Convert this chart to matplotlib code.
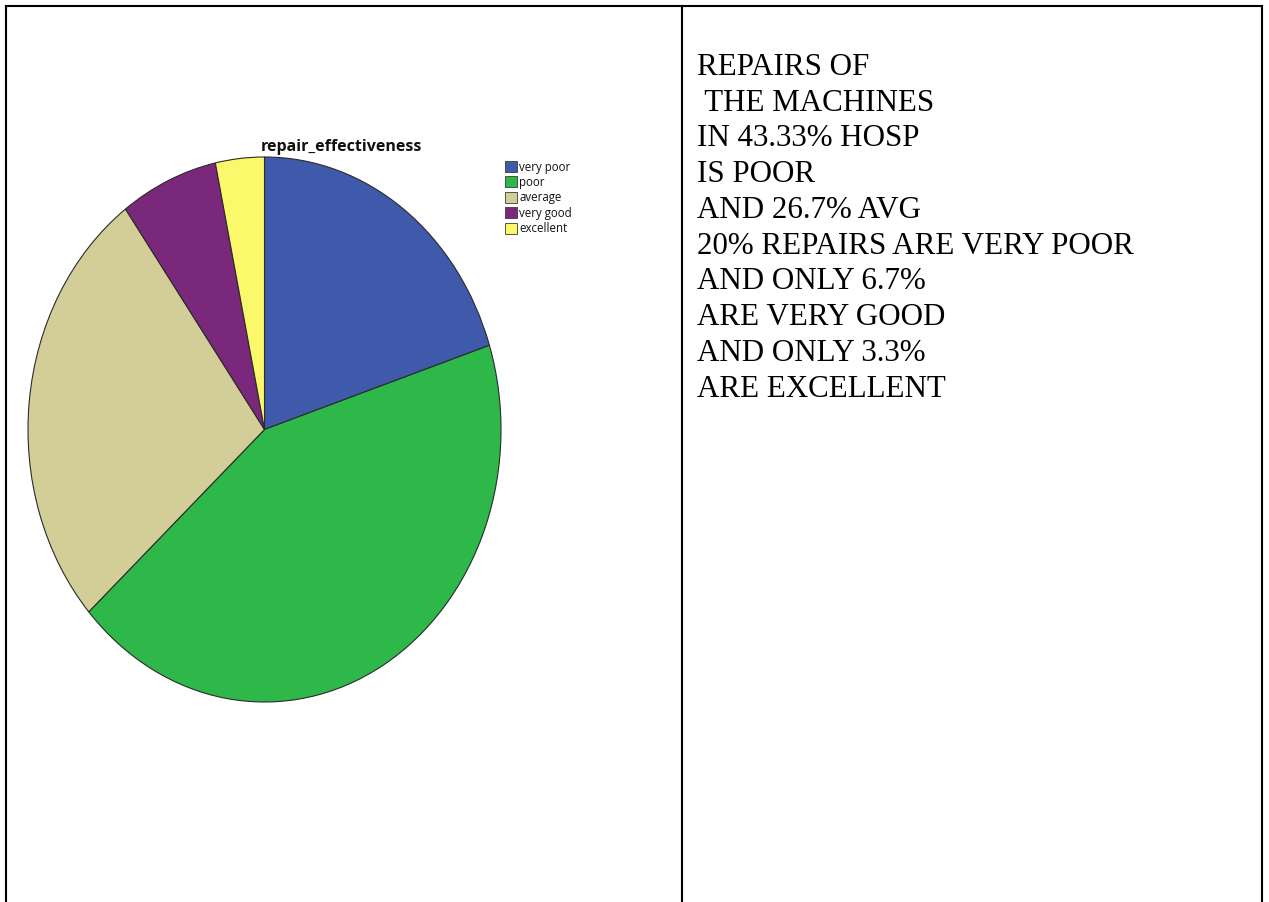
import matplotlib
matplotlib.use("Agg")
import matplotlib.pyplot as plt
from matplotlib.patches import Rectangle
from matplotlib.lines import Line2D

# Survey responses (30 hospitals) on how effective machine repairs are
categories = ["very poor", "poor", "average", "very good", "excellent"]
counts = [6, 13, 8, 2, 1]
slice_colors = ["#3F5AAB", "#2EB84A", "#D3CE98", "#7A287B", "#FBF86B"]
chart_title = "repair_effectiveness"

notes = [
    "REPAIRS OF",
    " THE MACHINES",
    "IN 43.33% HOSP",
    "IS POOR",
    "AND 26.7% AVG",
    "20% REPAIRS ARE VERY POOR",
    "AND ONLY 6.7%",
    "ARE VERY GOOD",
    "AND ONLY 3.3%",
    "ARE EXCELLENT",
]

W, H = 1269, 903
fig = plt.figure(figsize=(W / 100, H / 100), dpi=100)
fig.patch.set_facecolor("white")


def fx(px):
    return px / W


def fy(py):
    return 1 - py / H


# Table borders: two-cell layout, open at the bottom
lw = 1.5
for xs, ys in [
    ([6, 1262], [7, 7]),
    ([6, 6], [7, 903]),
    ([1262, 1262], [7, 903]),
    ([682, 682], [7, 903]),
]:
    fig.add_artist(Line2D([fx(x) for x in xs], [fy(y) for y in ys],
                          color="black", lw=lw, solid_capstyle="projecting"))

# Pie chart (slightly stretched vertically)
left, right, top, bottom = 28, 501, 158, 703
ax = fig.add_axes([fx(left), fy(bottom), fx(right - left), (bottom - top) / H])
ax.pie(counts, colors=slice_colors, startangle=90, counterclock=False,
       radius=1.0, wedgeprops=dict(edgecolor="#2a2a2a", linewidth=0.8))
ax.set_aspect("auto")
ax.set_xlim(-1, 1)
ax.set_ylim(-1, 1)
ax.axis("off")

# Title
fig.text(fx(341), fy(151), chart_title, ha="center", va="baseline",
         fontsize=11.5, fontweight="bold", family=["Open Sans", "DejaVu Sans"],
         color="#111111")

# Legend drawn as small swatches with labels
sw_x, sw_w, sw_h = 505, 12, 11
row0, row_step = 167, 15.5
for i, (lab, col) in enumerate(zip(categories, slice_colors)):
    cy = row0 + i * row_step
    fig.add_artist(Rectangle((fx(sw_x), fy(cy + sw_h / 2)), sw_w / W, sw_h / H,
                             facecolor=col, edgecolor="#3a3a3a", linewidth=0.6,
                             transform=fig.transFigure))
    fig.text(fx(sw_x + sw_w + 2), fy(cy), lab, ha="left", va="center",
             fontsize=8.3, family=["Open Sans", "DejaVu Sans"], color="#111111")

# Commentary in the right-hand cell
base0, step = 75, 35.75
for i, line in enumerate(notes):
    fig.text(fx(697), fy(base0 + i * step), line, ha="left", va="baseline",
             fontsize=22.3, family=["Liberation Serif", "DejaVu Serif"],
             color="black")

fig.savefig("out.png", dpi=100, facecolor="white")
